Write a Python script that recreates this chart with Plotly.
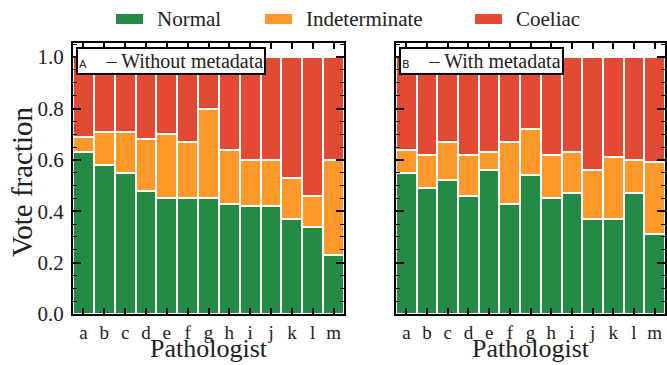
import plotly.graph_objects as go

pathologists = list("abcdefghijklm")
categories = ["Normal", "Indeterminate", "Coeliac"]
colors = ["#238b45", "#fe9929", "#e34a33"]

# Panel A - without metadata (fractions)
a_normal = [0.63, 0.58, 0.55, 0.48, 0.45, 0.45, 0.45, 0.43, 0.42, 0.42, 0.37, 0.34, 0.23]
a_indet = [0.06, 0.13, 0.16, 0.20, 0.25, 0.22, 0.35, 0.21, 0.18, 0.18, 0.16, 0.12, 0.37]
# Panel B - with metadata
b_normal = [0.55, 0.49, 0.52, 0.46, 0.56, 0.43, 0.54, 0.45, 0.47, 0.37, 0.37, 0.47, 0.31]
b_indet = [0.09, 0.13, 0.15, 0.16, 0.07, 0.24, 0.18, 0.17, 0.16, 0.19, 0.24, 0.13, 0.28]

a_coeliac = [round(1 - n - i, 4) for n, i in zip(a_normal, a_indet)]
b_coeliac = [round(1 - n - i, 4) for n, i in zip(b_normal, b_indet)]

panels = [
    ("x", "y", [a_normal, a_indet, a_coeliac]),
    ("x2", "y2", [b_normal, b_indet, b_coeliac]),
]

FONT = "Liberation Serif"
TXT = "#222"
fig = go.Figure()
for xa, ya, series in panels:
    for name, col, vals in zip(categories, colors, series):
        fig.add_trace(go.Bar(
            x=pathologists, y=vals, name=name, xaxis=xa, yaxis=ya,
            marker=dict(color=col, line=dict(color="white", width=2)),
            showlegend=False,
        ))

W, H = 667, 365
xdom1 = [73 / W, 344 / W]
xdom2 = [396 / W, 665 / W]
ydom = [(H - 314) / H, (H - 43) / H]

axis_common = dict(
    showline=True, linecolor="black", linewidth=2, mirror="ticks",
    ticks="inside", tickcolor="black", tickwidth=1.5, showgrid=False, zeroline=False,
    automargin=False,
)
xcommon = dict(axis_common, ticklen=6, range=[-0.5, 12.5],
               tickmode="array", tickvals=pathologists, ticktext=pathologists,
               tickfont=dict(family=FONT, size=19, color=TXT))
ycommon = dict(axis_common, ticklen=8, range=[0, 1.055], tickvals=[0, 0.2, 0.4, 0.6, 0.8, 1.0],
               minor=dict(ticks="inside", ticklen=4, tickcolor="black", tickwidth=1, dtick=0.05, showgrid=False))

fig.update_layout(
    width=W, height=H,
    margin=dict(l=0, r=0, t=0, b=0),
    paper_bgcolor="white", plot_bgcolor="white",
    barmode="stack", bargap=0,
    xaxis=dict(xcommon, domain=xdom1, anchor="y"),
    xaxis2=dict(xcommon, domain=xdom2, anchor="y2"),
    yaxis=dict(ycommon, domain=ydom, anchor="x", tickformat=".1f",
               tickfont=dict(family=FONT, size=21, color=TXT)),
    yaxis2=dict(ycommon, domain=ydom, anchor="x2", showticklabels=False),
)
try:
    fig.update_yaxes(ticklabelstandoff=3)
except Exception:
    pass

# axis titles
for xc in [(xdom1[0] + xdom1[1]) / 2, (xdom2[0] + xdom2[1]) / 2]:
    fig.add_annotation(xref="paper", yref="paper", x=xc, y=0,
                       xanchor="center", yanchor="bottom", text="Pathologist", showarrow=False,
                       font=dict(family=FONT, size=26, color=TXT))
fig.add_annotation(xref="paper", yref="paper", x=22 / W, y=(H - 182) / H, textangle=-90,
                   xanchor="center", yanchor="middle", text="Vote fraction", showarrow=False,
                   font=dict(family=FONT, size=29, color=TXT))

# panel labels
for xref, yref, letter, label in [("x domain", "y domain", "A", "Without metadata"),
                                  ("x2 domain", "y2 domain", "B", "With metadata")]:
    fig.add_annotation(
        xref=xref, yref=yref, x=0.012, y=0.985, xanchor="left", yanchor="top",
        text=f"<span style='font-family:DejaVu Sans;font-size:11px'>{letter}</span>    – {label}",
        showarrow=False, font=dict(family=FONT, size=20, color=TXT),
        bgcolor="white", bordercolor="black", borderwidth=2, borderpad=1,
    )

# legend drawn at top
legend_x = [116, 265, 475]
for lx, name, col in zip(legend_x, categories, colors):
    fig.add_shape(type="rect", xref="paper", yref="paper",
                  x0=lx / W, x1=(lx + 27) / W, y0=(H - 24) / H, y1=(H - 14) / H,
                  fillcolor=col, line=dict(width=0))
    fig.add_annotation(xref="paper", yref="paper", x=(lx + 39) / W, y=(H - 19) / H,
                       xanchor="left", yanchor="middle", text=name, showarrow=False,
                       font=dict(family=FONT, size=21, color=TXT))

fig.write_html("out.html")
